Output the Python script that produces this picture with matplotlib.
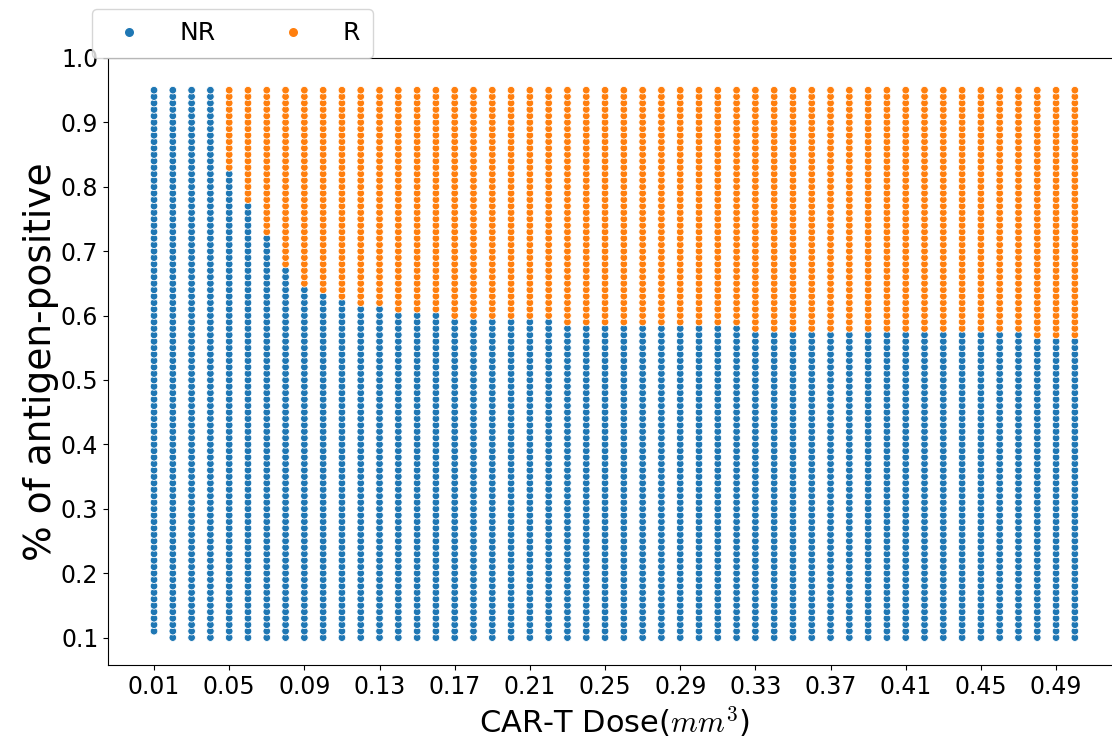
import numpy as np
import matplotlib.pyplot as plt
from matplotlib.lines import Line2D

plt.rcParams["mathtext.fontset"] = "cm"

# CAR-T doses (x categories) and antigen-positive fraction grid
doses = [round(0.01 * i, 2) for i in range(1, 51)]
antigen_levels = [round(0.01 * i, 2) for i in range(10, 96)]

# highest antigen-positive fraction still classified NR, per dose
nr_max = [0.95, 0.95, 0.95, 0.95, 0.82, 0.77, 0.72, 0.67, 0.64, 0.63,
          0.62, 0.61, 0.61, 0.60, 0.60, 0.60, 0.59, 0.59, 0.59, 0.59,
          0.59, 0.59, 0.58, 0.58, 0.58, 0.58, 0.58, 0.58, 0.58, 0.58,
          0.58, 0.58, 0.57, 0.57, 0.57, 0.57, 0.57, 0.57, 0.57, 0.57,
          0.57, 0.57, 0.57, 0.57, 0.57, 0.57, 0.57, 0.56, 0.56, 0.56]

# first dose column has no point at the lowest level
min_level = {0.01: 0.11}

labels = ["NR", "R"]
colors = {"NR": "#1f77b4", "R": "#ff7f0e"}

xs, ys, cs = [], [], []
for d, thr in zip(doses, nr_max):
    for a in antigen_levels:
        if a < min_level.get(d, 0.10) - 1e-9:
            continue
        xs.append(d)
        ys.append(a)
        cs.append(colors["NR"] if a <= thr + 1e-9 else colors["R"])

fig = plt.figure(figsize=(11.12, 7.47), dpi=100)
ax = fig.add_axes([0.0971, 0.1098, 0.9109, 0.8126])

ax.scatter(xs, ys, c=cs, s=30, edgecolors="white", linewidths=0.6)

ax.set_xticks(np.round(np.arange(0.01, 0.51, 0.04), 2))
ax.set_xticklabels([f"{t:.2f}" for t in np.arange(0.01, 0.51, 0.04)])
ax.set_yticks(np.round(np.arange(0.1, 1.01, 0.1), 1))
ax.set_ylim(top=1.0)
ax.tick_params(labelsize=17)
ax.spines["right"].set_visible(False)

ax.set_xlabel("CAR-T Dose($mm^3$)", fontsize=22)
ax.set_ylabel("% of antigen-positive", fontsize=27, labelpad=1)

handles = [Line2D([], [], marker="o", linestyle="", markersize=7.5,
                  markerfacecolor=colors[l], markeredgecolor="white", label=l)
           for l in labels]
ax.legend(handles=handles, loc="lower left", bbox_to_anchor=(-0.016, 1.0),
          borderaxespad=0, ncol=2, fontsize=18, columnspacing=2.1,
          handletextpad=1.0, borderpad=0.5)

fig.savefig("out.png", dpi=100)
